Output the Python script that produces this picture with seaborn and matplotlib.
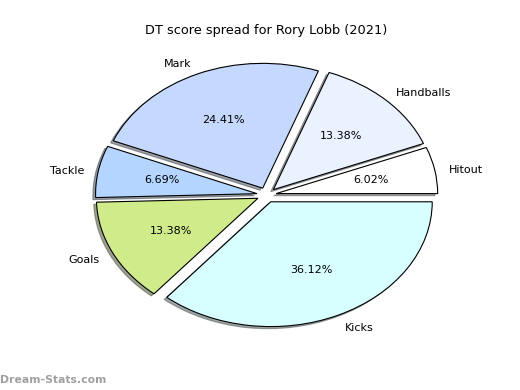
import matplotlib
matplotlib.use("Agg")
import matplotlib.pyplot as plt
import seaborn as sns

labels = ["Hitout", "Handballs", "Mark", "Tackle", "Goals", "Kicks"]
values = [6.02, 13.38, 24.41, 6.69, 13.38, 36.12]
colors = ["#ffffff", "#eaf1ff", "#c5d9ff", "#b4d5ff", "#d0eb8a", "#d8ffff"]
title = "DT score spread for Rory Lobb (2021)"
explode = [0.06] * len(values)

sns.set_style("white")
plt.rcParams["font.family"] = ["DejaVu Sans"]
plt.rcParams["text.color"] = "black"

fig = plt.figure(figsize=(5.2, 3.9), dpi=100)
ax = fig.add_axes([0.1245, 39 / 390, 0.7765, 312 / 390])
wedges, texts, autotexts = ax.pie(
    values, labels=labels, colors=sns.color_palette(colors), explode=explode,
    autopct="%.2f%%", shadow={"ox": -0.012, "oy": -0.012}, startangle=0,
    counterclock=True, labeldistance=1.1,
    wedgeprops={"edgecolor": "black", "linewidth": 0.8},
    textprops={"fontsize": 8, "color": "black"},
)
for t in texts:
    x, y = t.get_position()
    t.set_position((x * 0.99, y - 0.015))
ax.set_aspect("auto")
ax.set_xlim(-1.25, 1.25)
ax.set_ylim(-1.25, 1.25)
ax.set_title(title, fontsize=9.3, pad=3.5, color="black")

fig.text(0.0, 10 / 390, "Dream-Stats.com", fontsize=7.8, fontweight="bold",
         color="#a0a0a0", ha="left", va="center")

fig.savefig("out.png", dpi=100)
